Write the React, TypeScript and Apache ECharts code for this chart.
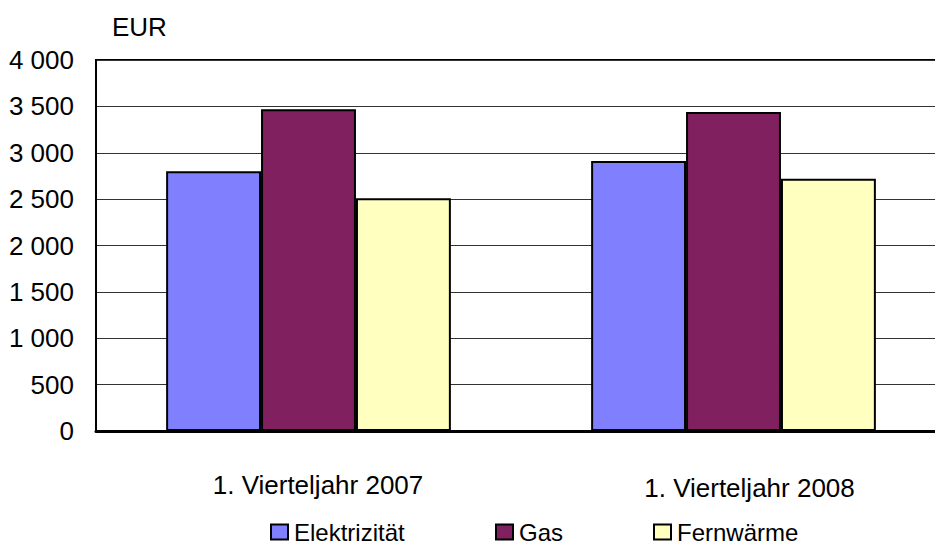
import React, { useEffect, useRef } from "react";
import * as echarts from "echarts";

const categories = ["1. Vierteljahr 2007", "1. Vierteljahr 2008"];
const elektrizitaet = [2800, 2910];
const gas = [3470, 3440];
const fernwaerme = [2510, 2720];
const yTicks = [0, 500, 1000, 1500, 2000, 2500, 3000, 3500, 4000];
const seriesNames = ["Elektrizität", "Gas", "Fernwärme"];
const colors = ["#8080FF", "#80205F", "#FFFFC0"];

const FONT = "'Liberation Sans', Arial, sans-serif";

export default function App() {
  const ref = useRef<HTMLDivElement>(null);
  useEffect(() => {
    if (!ref.current) return;
    const chart = echarts.init(ref.current, null, { renderer: "svg" });
    const fmt = (v: number) => {
      const s = String(v);
      return s.length > 3 ? s.slice(0, s.length - 3) + " " + s.slice(-3) : s;
    };
    const data = [elektrizitaet, gas, fernwaerme];
    const legendLefts = [270, 495, 653];
    chart.setOption({
      animation: false,
      backgroundColor: "#ffffff",
      textStyle: { fontFamily: FONT },
      grid: {
        left: 96,
        top: 60,
        bottom: 114,
        right: 0,
        show: true,
        borderColor: "#000",
        borderWidth: 2,
        backgroundColor: "transparent",
      },
      legend: seriesNames.map((n, i) => ({
        data: [n],
        left: legendLefts[i],
        top: 520,
        itemWidth: 17,
        itemHeight: 15,
        itemGap: 0,
        padding: 0,
        icon: "rect",
        itemStyle: { borderColor: "#000", borderWidth: 2 },
        textStyle: { fontFamily: FONT, fontSize: 24, color: "#000", padding: [0, 0, 0, 1] },
      })),
      graphic: [
        {
          type: "text",
          left: 112,
          top: 14,
          style: { text: "EUR", font: `26px ${FONT}`, fill: "#000" },
        },
      ],
      xAxis: {
        type: "category",
        data: categories,
        axisLine: { show: true, lineStyle: { color: "#000", width: 3 } },
        axisTick: { show: false },
        axisLabel: {
          margin: 41,
          color: "#000",
          fontSize: 26,
          fontFamily: FONT,
          formatter: (v: string, i: number) => (i === 1 ? `{b|${v}}` : `{a|${v}}`),
          rich: {
            a: { fontSize: 26, fontFamily: FONT, color: "#000", padding: [0, 0, 0, 19] },
            b: { fontSize: 26, fontFamily: FONT, color: "#000", padding: [3, 0, 0, 32] },
          },
        },
        splitLine: { show: false },
      },
      yAxis: {
        type: "value",
        min: 0,
        max: 4000,
        interval: 500,
        axisLine: { show: true, lineStyle: { color: "#000", width: 2 } },
        axisTick: { show: false },
        axisLabel: {
          margin: 22,
          color: "#000",
          fontSize: 26,
          fontFamily: FONT,
          formatter: (v: number) => (yTicks.includes(v) ? fmt(v) : ""),
        },
        splitLine: { show: true, lineStyle: { color: "#333", width: 1 } },
      },
      series: seriesNames.map((n, i) => ({
        name: n,
        type: "bar",
        data: data[i],
        barGap: "0%",
        barCategoryGap: "33%",
        itemStyle: { color: colors[i], borderColor: "#000", borderWidth: 2 },
      })),
    });
    return () => chart.dispose();
  }, []);
  return (
    <div
      style={{
        position: "fixed",
        left: 0,
        top: 0,
        width: 935,
        height: 545,
        overflow: "hidden",
        background: "#fff",
      }}
    >
      <div ref={ref} style={{ width: 946, height: 545 }} />
    </div>
  );
}
